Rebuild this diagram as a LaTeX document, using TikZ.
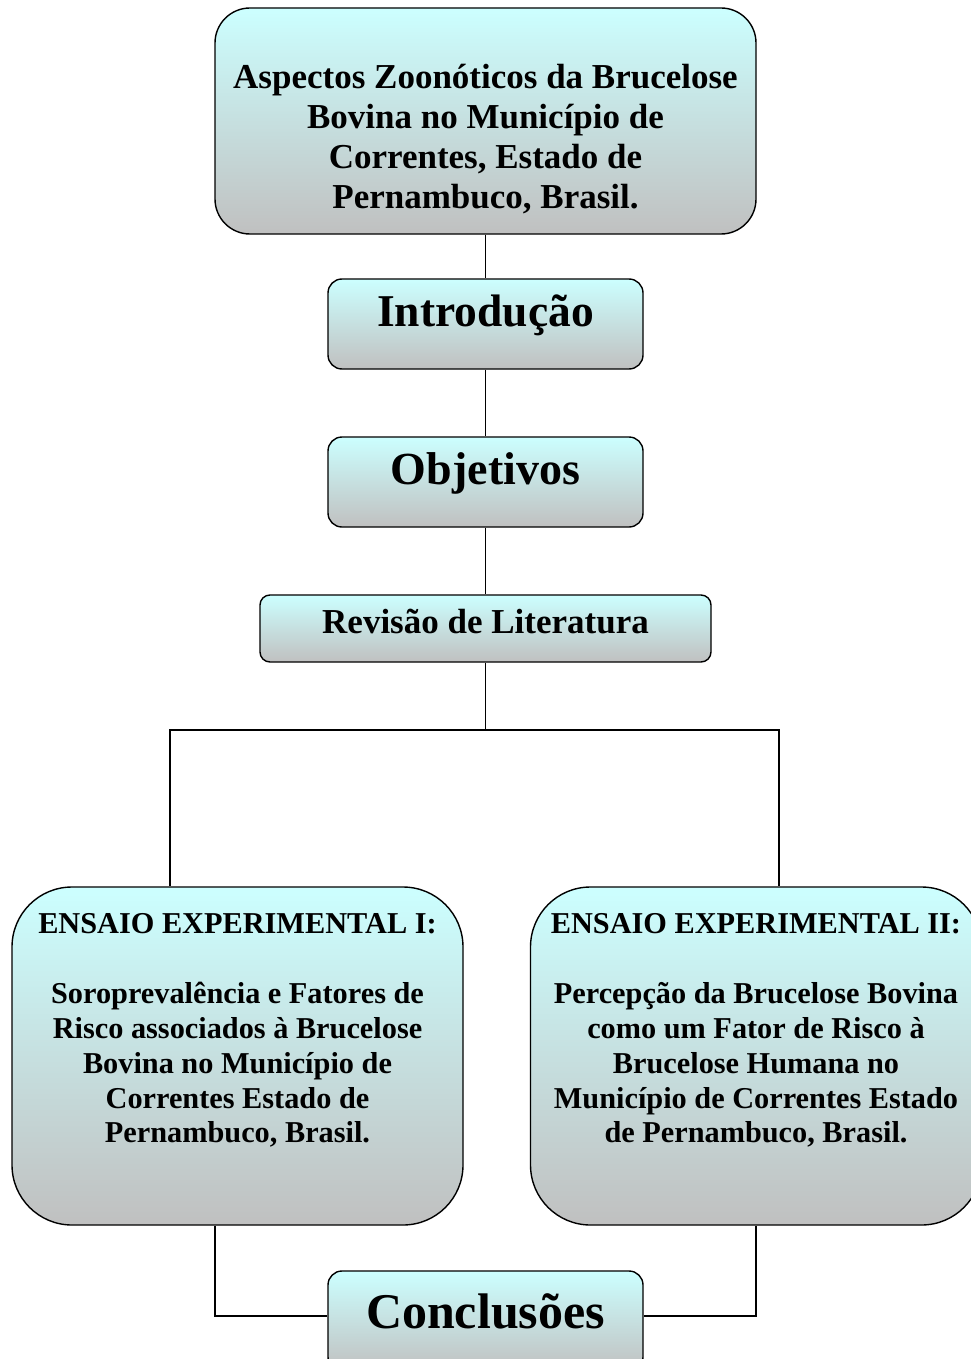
\documentclass[tikz,border=0pt]{standalone}
\usepackage{fontspec}
\setmainfont{Liberation Serif}
\begin{document}
\begin{tikzpicture}[x=1pt,y=-1pt,
  boxstyle/.style={draw=black, line width=1.4pt, top color=topc, bottom color=botc, inner sep=0pt},
  link/.style={draw=black, line width=1.3pt},
  txt/.style={align=center, font=\bfseries, inner sep=0pt}]
\definecolor{topc}{RGB}{204,255,255}
\definecolor{botc}{RGB}{192,192,192}
\useasboundingbox (0,0) rectangle (971,1359);
% boxes
\node[boxstyle, rounded corners=35pt, minimum width=541pt, minimum height=226pt] (top) at (485.5,121) {};
\node[boxstyle, rounded corners=14pt, minimum width=315pt, minimum height=90pt] (intro) at (485.5,324) {};
\node[boxstyle, rounded corners=14pt, minimum width=315pt, minimum height=90pt] (obj) at (485.5,482) {};
\node[boxstyle, rounded corners=10pt, minimum width=451pt, minimum height=67pt] (rev) at (485.5,628.5) {};
\node[boxstyle, rounded corners=60pt, minimum width=451pt, minimum height=338pt] (e1) at (237.5,1056) {};
\node[boxstyle, rounded corners=60pt, minimum width=451pt, minimum height=338pt] (e2) at (756,1056) {};
\node[boxstyle, rounded corners=14pt, minimum width=315pt, minimum height=100pt] (conc) at (485.5,1321) {};
% texts
\node[txt, font=\bfseries\fontsize{35}{40.3}\selectfont] (ttop) at (485.5,139) {Aspectos Zoonóticos da Brucelose\\Bovina no Município de\\Correntes, Estado de\\Pernambuco, Brasil.};
\node[txt, font=\bfseries\fontsize{45.5}{50}\selectfont] (tintro) at (485.5,315) {Introdução};
\node[txt, font=\bfseries\fontsize{46}{50}\selectfont] (tobj) at (485.5,473) {Objetivos};
\node[txt, font=\bfseries\fontsize{35}{36}\selectfont] (trev) at (485.5,622) {Revisão de Literatura};
\node[txt, font=\bfseries\fontsize{30.3}{34.8}\selectfont] (te1a) at (237.5,924) {ENSAIO EXPERIMENTAL I:};
\node[txt, font=\bfseries\fontsize{30.3}{34.8}\selectfont] (te1b) at (237.5,1065) {Soroprevalência e Fatores de\\Risco associados à Brucelose\\Bovina no Município de\\Correntes Estado de\\Pernambuco, Brasil.};
\node[txt, font=\bfseries\fontsize{30.3}{34.8}\selectfont] (te2a) at (756,924) {ENSAIO EXPERIMENTAL II:};
\node[txt, font=\bfseries\fontsize{30.3}{34.8}\selectfont] (te2b) at (756,1065) {Percepção da Brucelose Bovina\\como um Fator de Risco à\\Brucelose Humana no\\Município de Correntes Estado\\de Pernambuco, Brasil.};
\node[txt, font=\bfseries\fontsize{50}{54}\selectfont] (tconc) at (485.5,1311) {Conclusões};
% connectors
\coordinate (split) at (485.5,730);
\draw[link] (top.south) -- (intro.north);
\draw[link] (intro.south) -- (obj.north);
\draw[link] (obj.south) -- (rev.north);
\draw[link] (rev.south) -- (split);
\draw[link] (split) -| (e1.north -| 170,0);
\draw[link] (split) -| (e2.north -| 779,0);
\draw[link] (e1.south -| 215,0) |- (conc.west |- 0,1316);
\draw[link] (e2.south -| 756,0) |- (conc.east |- 0,1316);
\end{tikzpicture}
\end{document}
